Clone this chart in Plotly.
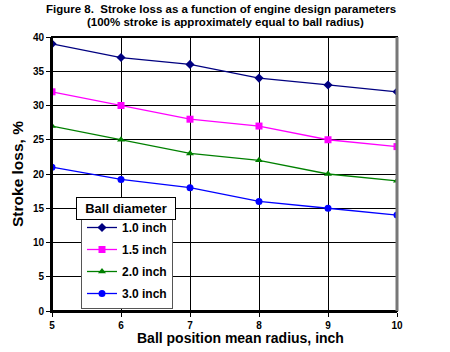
import plotly.graph_objects as go

x_vals = [5, 6, 7, 8, 9, 10]
s10 = [39, 37, 36, 34, 33, 32]
s15 = [32, 30, 28, 27, 25, 24]
s20 = [27, 25, 23, 22, 20, 19]
s30 = [21, 19.2, 18, 16, 15, 14]
names = ["1.0 inch", "1.5 inch", "2.0 inch", "3.0 inch"]
colors = ["#000080", "#FF00FF", "#008000", "#0000FF"]
symbols = ["diamond", "square", "triangle-up", "circle"]

fig = go.Figure()
for i, (ys, n, c, s) in enumerate(zip([s10, s15, s20, s30], names, colors, symbols)):
    fig.add_trace(go.Scatter(x=x_vals, y=ys, name=f"<b>{n}</b>", mode="lines+markers",
                             legendgroup=f"g{i}",
                             line=dict(color=c, width=1.3),
                             marker=dict(symbol=s, size=7, color=c)))

font = "Liberation Sans, Arial, sans-serif"
fig.update_layout(
    width=450, height=352,
    margin=dict(l=52, r=53, t=37, b=41),
    paper_bgcolor="white", plot_bgcolor="white",
    font=dict(family=font, color="black"),
    showlegend=True,
    legend=dict(x=(81 - 52) / 345, y=(311 - 212) / 274, xanchor="left", yanchor="top",
                bgcolor="white", bordercolor="#555", borderwidth=1,
                font=dict(size=12, family=font),
                tracegroupgap=3, itemwidth=30),
    xaxis=dict(range=[5, 10], tickvals=x_vals, ticktext=[f"<b>{v}</b>" for v in x_vals],
               showgrid=True, gridcolor="black", gridwidth=1,
               showline=True, linecolor="black", linewidth=2, mirror=False,
               ticks="outside", ticklen=4, tickcolor="black",
               tickfont=dict(size=10), zeroline=False),
    yaxis=dict(range=[0, 40], tickvals=list(range(0, 41, 5)),
               ticktext=[f"<b>{v}</b>" for v in range(0, 41, 5)],
               showgrid=True, gridcolor="black", gridwidth=1,
               showline=True, linecolor="black", linewidth=2,
               ticks="outside", ticklen=4, tickcolor="black",
               tickfont=dict(size=10), zeroline=False,
               title=dict(text="<b>Stroke loss, %</b>", font=dict(size=15.5), standoff=5)),
)
fig.add_annotation(text="<b>Ball position mean radius, inch</b>",
                   xref="paper", yref="paper", x=(240 - 52) / 345, y=-(338 - 311) / 274,
                   xanchor="center", yanchor="middle", showarrow=False,
                   font=dict(size=14, family=font))
fig.add_annotation(text="<b>Figure 8.  Stroke loss as a function of engine design parameters</b>",
                   xref="paper", yref="paper", x=(221 - 52) / 345, y=1 + (37 - 9) / 274,
                   xanchor="center", yanchor="middle", showarrow=False,
                   font=dict(size=11.5, family=font))
fig.add_annotation(text="<b>(100% stroke is approximately equal to ball radius)</b>",
                   xref="paper", yref="paper", x=(225 - 52) / 345, y=1 + (37 - 22) / 274,
                   xanchor="center", yanchor="middle", showarrow=False,
                   font=dict(size=11.5, family=font))
fig.add_annotation(text="<b>Ball diameter</b>",
                   xref="paper", yref="paper", x=(126 - 52) / 345, y=(311 - 208.5) / 274,
                   xanchor="center", yanchor="middle", showarrow=False,
                   width=96, height=19, borderpad=1,
                   bgcolor="white", bordercolor="black", borderwidth=1,
                   font=dict(size=13, family=font))
fig.add_shape(type="rect", xref="paper", yref="paper", x0=0, x1=1, y0=0, y1=1,
              line=dict(color="black", width=2), layer="above")
fig.add_shape(type="line", xref="paper", yref="paper", x0=1, x1=1, y0=0, y1=1,
              line=dict(color="#777", width=3), layer="above")
fig.write_html("out.html")
